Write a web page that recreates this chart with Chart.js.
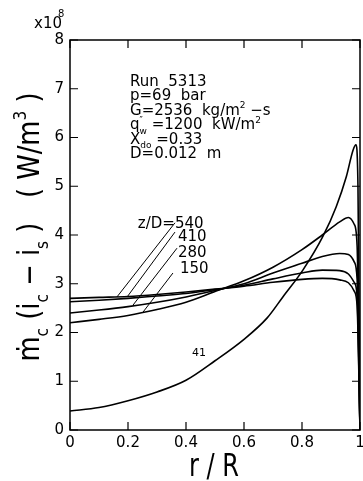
<!DOCTYPE html>
<html>
<head>
<meta charset="utf-8">
<script src="https://cdn.jsdelivr.net/npm/chart.js@4"></script>
<style>
	html, body { margin: 0; padding: 0; background: #fff; }
</style>
</head>
<body>
<canvas id="chart" width="363" height="481"></canvas>
<script>
/*--------------------------------------------------------------------------------------------------------------------*/
/* DATA                                                                                                               */
/*--------------------------------------------------------------------------------------------------------------------*/

const R_GRID = [0, 0.1, 0.2, 0.3, 0.4, 0.5, 0.6, 0.7, 0.8, 0.87, 0.93, 0.96, 0.98, 0.99, 1.0];

const M_ZD150 = [2.20, 2.27, 2.35, 2.47, 2.62, 2.84, 3.06, 3.34, 3.70, 4.00, 4.27, 4.36, 4.22, 3.78, 0];
const M_ZD280 = [2.40, 2.46, 2.53, 2.62, 2.73, 2.86, 3.00, 3.22, 3.42, 3.56, 3.62, 3.60, 3.45, 3.10, 0];
const M_ZD410 = [2.63, 2.66, 2.70, 2.75, 2.80, 2.88, 2.97, 3.10, 3.22, 3.28, 3.27, 3.20, 3.03, 2.75, 0];
const M_ZD540 = [2.70, 2.72, 2.74, 2.78, 2.83, 2.89, 2.95, 3.03, 3.09, 3.11, 3.08, 3.02, 2.85, 2.55, 0];

const R_ZD41 = [0, 0.1, 0.2, 0.3, 0.4, 0.5, 0.6, 0.68, 0.734, 0.803, 0.872, 0.918, 0.953, 0.976, 0.986, 0.993, 1.0];
const M_ZD41 = [0.39, 0.46, 0.60, 0.78, 1.02, 1.42, 1.86, 2.30, 2.73, 3.28, 3.97, 4.58, 5.20, 5.74, 5.85, 5.00, 0];

const X_TICKS = [0, 0.2, 0.4, 0.6, 0.8, 1];
const Y_TICKS = [0, 1, 2, 3, 4, 5, 6, 7, 8];

/*--------------------------------------------------------------------------------------------------------------------*/
/* ANNOTATIONS (data coordinates)                                                                                     */
/*--------------------------------------------------------------------------------------------------------------------*/

const RUN_INFO = [
	[['Run  5313', 0]],
	[['p=69  bar', 0]],
	[['G=2536  kg/m', 0], ['2', 1], [' −s', 0]],
	[['q', 0], ['″', 1, true], ['w', -1], [' =1200  kW/m', 0], ['2', 1]],
	[['X', 0], ['do', -1], [' =0.33', 0]],
	[['D=0.012  m', 0]],
];

const CURVE_LABELS = [
	{text: 'z/D=540', r: 0.234, v: 4.14, line: [0.362, 4.25, 0.162, 2.73]},
	{text: '410', r: 0.372, v: 3.88, line: [0.362, 4.06, 0.197, 2.73]},
	{text: '280', r: 0.372, v: 3.55, line: [0.369, 3.73, 0.217, 2.56]},
	{text: '150', r: 0.379, v: 3.22, line: [0.355, 3.22, 0.252, 2.42]},
];

/*--------------------------------------------------------------------------------------------------------------------*/

const FONT = '"DejaVu Sans"';

function rich(ctx, parts, x, y, size, draw)
{
	let cx = x;

	parts.forEach(([t, mode, keep]) => {

		const s = mode === 0 ? size : size * 0.6;
		const dy = mode === -1 ? size * 0.3 : mode === 1 ? -size * 0.45 : 0;

		ctx.font = s + 'px ' + FONT;

		if(draw) {
			ctx.fillText(t, cx, y + dy);
		}

		if(!keep) {
			cx += ctx.measureText(t).width;
		}
	});

	return cx - x;
}

/*--------------------------------------------------------------------------------------------------------------------*/

const framePlugin = {
	id: 'frame',
	afterDatasetsDraw: (chart) => {

		const {ctx, chartArea: a, scales: {x, y}} = chart;
		const tick = 8;

		ctx.save();
		ctx.strokeStyle = '#000';
		ctx.lineWidth = 1.5;
		ctx.strokeRect(a.left, a.top, a.right - a.left, a.bottom - a.top);

		ctx.lineWidth = 1.2;
		ctx.beginPath();

		X_TICKS.forEach((v) => {
			const px = x.getPixelForValue(v);
			ctx.moveTo(px, a.bottom); ctx.lineTo(px, a.bottom - tick);
			ctx.moveTo(px, a.top); ctx.lineTo(px, a.top + tick);
		});

		Y_TICKS.forEach((v) => {
			const py = y.getPixelForValue(v);
			ctx.moveTo(a.left, py); ctx.lineTo(a.left + tick, py);
			ctx.moveTo(a.right, py); ctx.lineTo(a.right - tick, py);
		});

		ctx.stroke();
		ctx.restore();
	},
};

/*--------------------------------------------------------------------------------------------------------------------*/

const textPlugin = {
	id: 'texts',
	afterDraw: (chart) => {

		const {ctx, scales: {x, y}} = chart;

		ctx.save();
		ctx.fillStyle = '#000';
		ctx.strokeStyle = '#000';
		ctx.textAlign = 'left';
		ctx.textBaseline = 'alphabetic';

		/* exponent */

		ctx.font = '15px ' + FONT;
		ctx.fillText('x10', 34, 28);
		ctx.font = '10px ' + FONT;
		ctx.fillText('8', 58, 17);

		/* y title */

		const yParts = [['ṁ', 0], ['c', -1], [' (', 0], ['i', 0], ['c', -1], [' − ', 0], ['i', 0], ['s', -1], [' )', 0], ['   ( W/m', 0], ['3', 1], [' )', 0]];
		const yw = rich(ctx, yParts, 0, 0, 30, false);

		ctx.save();
		ctx.translate(39, 227);
		ctx.rotate(-Math.PI / 2);
		ctx.scale(269 / yw, 1);
		rich(ctx, yParts, -yw / 2, 0, 30, true);
		ctx.restore();

		/* x title */

		ctx.font = '32px ' + FONT;
		const xt = 'r / R';
		const xw = ctx.measureText(xt).width;

		ctx.save();
		ctx.translate(214, 476);
		ctx.scale(50 / xw, 1);
		ctx.fillText(xt, -xw / 2, 0);
		ctx.restore();

		/* run info */

		const ix = x.getPixelForValue(0.207);
		const iy = y.getPixelForValue(7.06);

		RUN_INFO.forEach((parts, i) => {
			rich(ctx, parts, ix, iy + i * 14.5, 15, true);
		});

		/* curve labels */

		ctx.lineWidth = 1;

		CURVE_LABELS.forEach((lab) => {

			ctx.font = '15px ' + FONT;
			ctx.fillText(lab.text, x.getPixelForValue(lab.r), y.getPixelForValue(lab.v));

			ctx.beginPath();
			ctx.moveTo(x.getPixelForValue(lab.line[0]), y.getPixelForValue(lab.line[1]));
			ctx.lineTo(x.getPixelForValue(lab.line[2]), y.getPixelForValue(lab.line[3]));
			ctx.stroke();
		});

		ctx.font = '11px ' + FONT;
		ctx.fillText('41', x.getPixelForValue(0.421), y.getPixelForValue(1.52));

		ctx.restore();
	},
};

/*--------------------------------------------------------------------------------------------------------------------*/

const toPoints = (rs, ms) => rs.map((r, i) => ({x: r, y: ms[i]}));

new Chart(document.getElementById('chart'), {
	type: 'line',
	data: {
		datasets: [
			{label: 'z/D=41', data: toPoints(R_ZD41, M_ZD41)},
			{label: 'z/D=150', data: toPoints(R_GRID, M_ZD150)},
			{label: 'z/D=280', data: toPoints(R_GRID, M_ZD280)},
			{label: 'z/D=410', data: toPoints(R_GRID, M_ZD410)},
			{label: 'z/D=540', data: toPoints(R_GRID, M_ZD540)},
		],
	},
	options: {
		responsive: false,
		animation: false,
		layout: {
			padding: {top: 40, right: 3, left: 0, bottom: 0},
		},
		plugins: {
			legend: {display: false},
			tooltip: {enabled: false},
		},
		elements: {
			point: {radius: 0},
			line: {borderColor: '#000', borderWidth: 1.6, cubicInterpolationMode: 'monotone', fill: false},
		},
		scales: {
			x: {
				type: 'linear',
				min: 0,
				max: 1,
				afterBuildTicks: (s) => { s.ticks = X_TICKS.map((v) => ({value: v})); },
				afterFit: (s) => { s.height = 51; s.paddingRight = 0; s.paddingLeft = 0; },
				grid: {display: false, drawTicks: false},
				border: {display: false},
				ticks: {
					color: '#000',
					font: {family: 'DejaVu Sans', size: 15},
					padding: 4,
					autoSkip: false,
					maxRotation: 0,
					callback: (v) => String(v),
				},
			},
			y: {
				type: 'linear',
				min: 0,
				max: 8,
				afterBuildTicks: (s) => { s.ticks = Y_TICKS.map((v) => ({value: v})); },
				afterFit: (s) => { s.width = 70; },
				grid: {display: false, drawTicks: false},
				border: {display: false},
				ticks: {
					color: '#000',
					font: {family: 'DejaVu Sans', size: 15},
					padding: 6,
					autoSkip: false,
					callback: (v) => String(v),
				},
			},
		},
	},
	plugins: [framePlugin, textPlugin],
});

/*--------------------------------------------------------------------------------------------------------------------*/
</script>
</body>
</html>
